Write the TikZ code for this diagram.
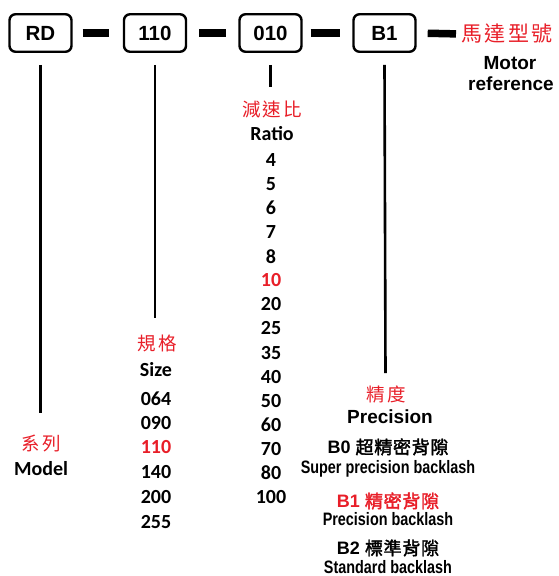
\documentclass[tikz,border=0pt]{standalone}
\usepackage{fontspec}
\setmainfont{Liberation Sans}
\newfontfamily\calfont{Carlito}
\newfontfamily\cjk{Noto Sans CJK TC}
\newfontfamily\cjkb[AutoFakeBold=2.2]{Noto Sans CJK TC}
\definecolor{lbred}{RGB}{232,30,40}
\begin{document}
\begin{tikzpicture}[x=1pt,y=-1pt,
  codebox/.style={draw,line width=2.4pt,rounded corners=6pt,minimum width=62pt,minimum height=37.5pt,inner sep=0pt,font=\fontsize{20.5}{24}\selectfont\bfseries},
  dashbar/.style={line width=7.5pt,line cap=butt},
  leader/.style={line width=2.6pt,line cap=butt},
  zhred/.style={inner sep=0pt,text=lbred,font=\fontsize{18.5}{22}\selectfont\cjk\addfontfeature{LetterSpace=12}},
  enlab/.style={inner sep=0pt,font=\fontsize{19}{22}\selectfont\bfseries},
  numlab/.style={inner sep=0pt,font=\fontsize{20}{24}\selectfont\calfont\bfseries},
  narrow/.style={inner sep=0pt,font=\fontsize{18}{22}\selectfont\bfseries,xscale=0.8},
  zhblk/.style={inner sep=0pt,font=\fontsize{18}{21}\selectfont\bfseries}
]
\useasboundingbox (0,0) rectangle (558,576);
% code boxes
\node[codebox] (rd) at (40.5,33) {RD};
\node[codebox] (sz) at (155,33) {110};
\node[codebox] (rt) at (270.5,33) {010};
\node[codebox] (pr) at (384.5,33) {B1};
\node[zhred,anchor=west,font=\fontsize{21}{24}\selectfont\cjk\addfontfeature{LetterSpace=12}] (motzh) at (461,34) {馬達型號};
\node[enlab] (moten) at (510,63) {Motor};
\node[enlab] (motref) at (511,84) {reference};
% dashes
\draw[dashbar,shorten <=10pt,shorten >=14pt] (rd) -- (sz);
\draw[dashbar,shorten <=12pt,shorten >=12pt] (sz) -- (rt);
\draw[dashbar,shorten <=8pt,shorten >=12pt] (rt) -- (pr);
\draw[dashbar,shorten <=11pt,shorten >=5pt] (pr.east) -- (motzh.west);
% leader lines
\coordinate (rdEnd) at (40.5,413);
\coordinate (szEnd) at (155,318);
\coordinate (rtEnd) at (270.5,87);
\coordinate (prEnd) at (385.5,373);
\draw[leader] ([yshift=-12pt]rd.south) -- (rdEnd);
\draw[leader] ([yshift=-12pt]sz.south) -- (szEnd);
\draw[leader] ([yshift=-12pt]rt.south) -- (rtEnd);
\draw[leader] ([yshift=-12pt]pr.south) -- (prEnd);
% model
\node[zhred] (mzh) at (41,443) {系列};
\node[numlab] (men) at (41,469) {Model};
% size
\node[zhred] (szh) at (157,343) {規格};
\node[numlab] (sen) at (156,370) {Size};
\foreach \v/\y/\c [count=\i] in {064/399/black,090/423/black,110/447/lbred,140/472/black,200/497/black,255/522/black}
  \node[numlab,text=\c] (s\i) at (156,\y) {\v};
% ratio
\node[zhred] (rzh) at (272,109) {減速比};
\node[numlab] (ren) at (272,134) {Ratio};
\foreach \v/\c [count=\i] in {4/black,5/black,6/black,7/black,8/black,10/lbred,20/black,25/black,35/black,40/black,50/black,60/black,70/black,80/black,100/black}
  \node[numlab,text=\c] (r\i) at (271,{160+24.07*(\i-1)}) {\v};
% precision
\node[zhred] (pzh) at (386,395) {精度};
\node[enlab] (pen) at (390,417) {Precision};
\node[zhblk] (b0) at (388,447) {B0 {\cjkb\addfontfeature{LetterSpace=4}超精密背隙}};
\node[narrow] (b0en) at (388,469) {Super precision backlash};
\node[zhblk,text=lbred] (b1) at (388,501) {B1 {\cjkb\addfontfeature{LetterSpace=4}精密背隙}};
\node[narrow] (b1en) at (388,519) {Precision backlash};
\node[zhblk] (b2) at (388,548) {B2 {\cjkb\addfontfeature{LetterSpace=4}標準背隙}};
\node[narrow] (b2en) at (388,567) {Standard backlash};
\end{tikzpicture}
\end{document}
